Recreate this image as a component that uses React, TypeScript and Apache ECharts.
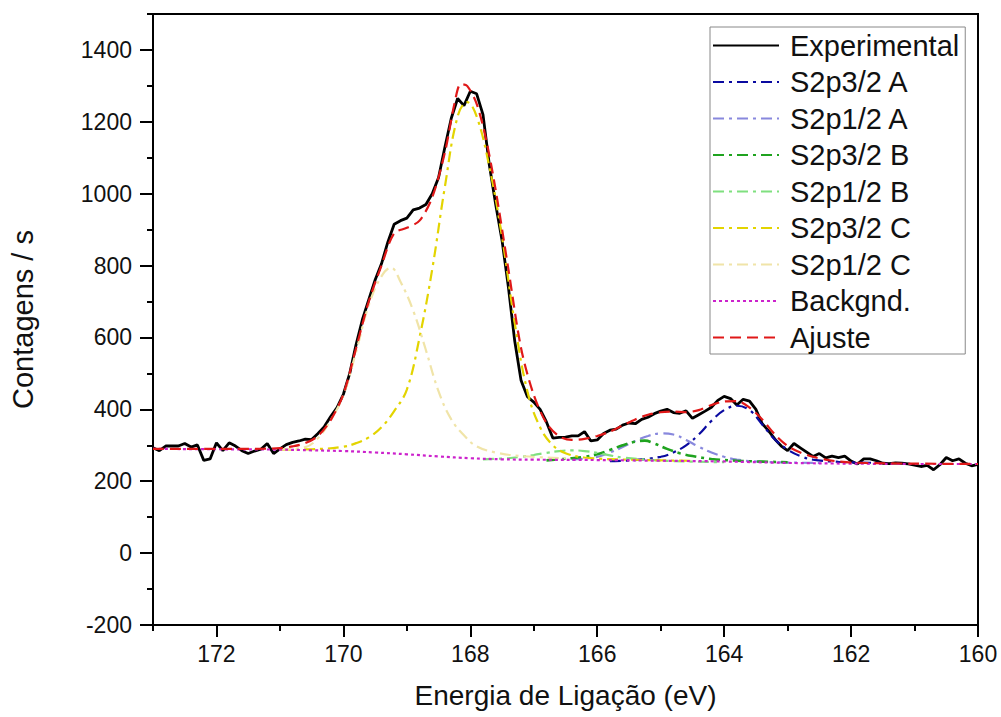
import React, { useEffect, useRef } from "react";
import * as echarts from "echarts";

// Experimental spectrum: binding energy (eV) on a 0.1 eV scan grid, counts/s
const energyExp: number[] = Array.from({ length: 131 }, (_, i) => +(173 - i * 0.1).toFixed(1));
const countsExp: number[] = [
  293, 285, 298, 298, 298, 305, 295, 301, 258, 262,
  307, 285, 307, 298, 285, 277, 284, 289, 305, 277,
  290, 302, 308, 312, 317, 316, 333, 352, 380, 405,
  442, 500, 580, 650, 705, 760, 805, 865, 915, 925,
  932, 955, 960, 970, 1000, 1045, 1130, 1210, 1265, 1245,
  1285, 1278, 1220, 1080, 970, 870, 740, 590, 480, 435,
  420, 400, 365, 320, 322, 323, 326, 326, 338, 312,
  315, 333, 342, 345, 356, 362, 360, 372, 378, 388,
  395, 400, 391, 389, 396, 375, 385, 395, 406, 425,
  436, 430, 412, 428, 423, 400, 360, 340, 317, 298,
  285, 305, 293, 281, 269, 277, 265, 270, 266, 270,
  256, 248, 262, 262, 257, 250, 249, 251, 250, 248,
  245, 241, 244, 232, 246, 266, 257, 262, 250, 243,
  247,
];

const energyA32 = [165.8, 165.4, 165.0, 164.8, 164.6, 164.4, 164.2, 164.0, 163.8, 163.6, 163.4, 163.2, 163.0, 162.8, 162.6, 162.2, 161.5];
const countsA32 = [256, 259, 268, 280, 300, 330, 368, 398, 410, 398, 358, 316, 288, 270, 260, 254, 251];

const energyA12 = [166.4, 166.0, 165.8, 165.6, 165.4, 165.2, 165.0, 164.8, 164.6, 164.4, 164.2, 164.0, 163.8, 163.4, 162.5];
const countsA12 = [260, 268, 280, 295, 312, 326, 333, 330, 315, 296, 280, 268, 260, 254, 251];

const energyB32 = [166.8, 166.4, 166.2, 166.0, 165.8, 165.6, 165.4, 165.25, 165.1, 164.9, 164.7, 164.5, 164.2, 163.8, 163.0];
const countsB32 = [258, 264, 268, 275, 287, 300, 310, 313, 305, 290, 278, 270, 262, 257, 253];

const energyB12 = [167.8, 167.4, 167.2, 167.0, 166.8, 166.6, 166.4, 166.2, 166.0, 165.8, 165.6, 165.2, 164.8, 164.0];
const countsB12 = [261, 264, 268, 273, 279, 284, 286, 284, 279, 272, 266, 260, 256, 253];

const energyC32 = [171.0, 170.5, 170.0, 169.8, 169.6, 169.4, 169.2, 169.0, 168.8, 168.6, 168.4, 168.2, 168.05, 167.9, 167.7, 167.5, 167.3, 167.1, 166.9, 166.7, 166.5, 166.2, 165.5, 164.5];
const countsC32 = [288, 289, 296, 306, 322, 350, 395, 455, 600, 790, 1020, 1215, 1255, 1215, 1075, 880, 640, 450, 350, 300, 278, 266, 260, 257];

const energyC12 = [171.0, 170.6, 170.4, 170.2, 170.0, 169.8, 169.6, 169.4, 169.25, 169.1, 168.9, 168.7, 168.5, 168.3, 168.1, 167.9, 167.6, 167.2, 166.5];
const countsC12 = [288, 295, 320, 370, 440, 560, 690, 770, 794, 755, 675, 565, 450, 372, 328, 297, 280, 270, 264];

const energyBg = [173.0, 172.0, 171.0, 170.5, 170.0, 169.5, 169.0, 168.5, 168.0, 167.5, 167.0, 166.0, 165.0, 164.0, 163.0, 162.0, 161.0, 160.0];
const countsBg = [290, 289, 288, 286, 284, 280, 275, 269, 264, 261, 260, 259, 257, 255, 251, 249, 248, 248];

const energyFit = [173.0, 172.0, 171.5, 171.0, 170.8, 170.6, 170.4, 170.2, 170.0, 169.8, 169.6, 169.4, 169.2, 169.0, 168.8, 168.6, 168.4, 168.25, 168.15, 168.05, 167.9, 167.75, 167.6, 167.4, 167.2, 167.0, 166.8, 166.6, 166.4, 166.2, 166.0, 165.8, 165.6, 165.4, 165.2, 165.0, 164.8, 164.6, 164.4, 164.2, 164.0, 163.8, 163.6, 163.4, 163.2, 163.0, 162.8, 162.6, 162.4, 162.2, 162.0, 161.5, 161.0, 160.0];
const countsFit = [290, 290, 290, 292, 297, 306, 326, 370, 442, 570, 700, 800, 890, 905, 925, 990, 1115, 1250, 1305, 1300, 1250, 1150, 1010, 790, 570, 440, 362, 325, 315, 318, 326, 338, 355, 372, 385, 392, 394, 392, 398, 412, 422, 423, 405, 372, 330, 298, 280, 268, 260, 255, 252, 250, 249, 248];

const xMajor = [160, 162, 164, 166, 168, 170, 172];
const xMinor = [161, 163, 165, 167, 169, 171, 173];
const yMajor = [-200, 0, 200, 400, 600, 800, 1000, 1200, 1400];
const yMinor = [-100, 100, 300, 500, 700, 900, 1100, 1300, 1500];

const FONT = '"Liberation Sans", Arial, sans-serif';

const zip = (xs: number[], ys: number[]) => xs.map((x, i) => [x, ys[i]]);

export default function App() {
  const ref = useRef<HTMLDivElement>(null);
  useEffect(() => {
    if (!ref.current) return;
    const chart = echarts.init(ref.current, undefined, { renderer: "svg" });
    const dashDot = [11, 5, 3, 5];
    const mk = (name: string, xs: number[], ys: number[], color: string, type: any, width: number, smooth: any) => ({
      name,
      type: "line",
      data: zip(xs, ys),
      symbol: "none",
      showSymbol: false,
      smooth,
      lineStyle: { color, type, width },
      itemStyle: { color },
      xAxisIndex: 0,
      yAxisIndex: 0,
    });
    chart.setOption({
      animation: false,
      backgroundColor: "#ffffff",
      grid: { left: 153, top: 14, right: 23, bottom: 92, show: true, borderColor: "#000", borderWidth: 2, containLabel: false },
      legend: {
        left: 710,
        top: 27,
        orient: "vertical",
        itemWidth: 66,
        itemHeight: 14,
        itemGap: 7.5,
        padding: [4, 6, 2, 2],
        borderColor: "#888",
        borderWidth: 1,
        backgroundColor: "#fff",
        itemStyle: { opacity: 0 },
        textStyle: { fontFamily: FONT, fontSize: 29, color: "#111", padding: [0, 0, 0, 6] },
        data: ["Experimental", "S2p3/2 A", "S2p1/2 A", "S2p3/2 B", "S2p1/2 B", "S2p3/2 C", "S2p1/2 C", "Backgnd.", "Ajuste"],
      },
      xAxis: [
        {
          type: "value",
          min: 160,
          max: 173,
          inverse: true,
          position: "bottom",
          name: "Energia de Ligação (eV)",
          nameLocation: "middle",
          nameGap: 56,
          nameTextStyle: { fontFamily: FONT, fontSize: 28, color: "#111" },
          axisLine: { show: true, onZero: false, lineStyle: { color: "#000", width: 2 } },
          axisTick: { show: true, customValues: xMajor, length: 12, lineStyle: { color: "#000", width: 2 } },
          axisLabel: { customValues: xMajor, fontFamily: FONT, fontSize: 23, color: "#111", margin: 17, formatter: (v: number) => String(v) },
          splitLine: { show: false },
        },
        {
          type: "value",
          min: 160,
          max: 173,
          inverse: true,
          position: "bottom",
          axisLine: { show: false, onZero: false },
          axisTick: { show: true, customValues: xMinor, length: 6, lineStyle: { color: "#000", width: 2 } },
          axisLabel: { show: false },
          splitLine: { show: false },
        },
      ],
      yAxis: [
        {
          type: "value",
          min: -200,
          max: 1500,
          position: "left",
          name: "Contagens / s",
          nameLocation: "middle",
          nameGap: 116,
          nameRotate: 90,
          nameTextStyle: { fontFamily: FONT, fontSize: 29, color: "#111" },
          axisLine: { show: true, onZero: false, lineStyle: { color: "#000", width: 2 } },
          axisTick: { show: true, customValues: yMajor, length: 13, lineStyle: { color: "#000", width: 2 } },
          axisLabel: { customValues: yMajor, fontFamily: FONT, fontSize: 23, color: "#111", margin: 21, formatter: (v: number) => String(v) },
          splitLine: { show: false },
        },
        {
          type: "value",
          min: -200,
          max: 1500,
          position: "left",
          axisLine: { show: false, onZero: false },
          axisTick: { show: true, customValues: yMinor, length: 6, lineStyle: { color: "#000", width: 2 } },
          axisLabel: { show: false },
          splitLine: { show: false },
        },
      ],
      series: [
        mk("Experimental", energyExp, countsExp, "#000000", "solid", 2.8, false),
        mk("S2p3/2 A", energyA32, countsA32, "#0a0aa0", dashDot, 2.2, 0.4),
        mk("S2p1/2 A", energyA12, countsA12, "#8888dd", dashDot, 2.2, 0.4),
        mk("S2p3/2 B", energyB32, countsB32, "#1fa31f", dashDot, 2.6, 0.4),
        mk("S2p1/2 B", energyB12, countsB12, "#7fe07f", dashDot, 2.2, 0.4),
        mk("S2p3/2 C", energyC32, countsC32, "#e3d400", dashDot, 2.2, 0.4),
        mk("S2p1/2 C", energyC12, countsC12, "#f0e4a8", dashDot, 2.2, 0.4),
        mk("Backgnd.", energyBg, countsBg, "#cc22cc", [3, 3], 2.2, 0.4),
        mk("Ajuste", energyFit, countsFit, "#e01818", [11, 6], 2.2, 0.3),
      ],
    });
    return () => chart.dispose();
  }, []);
  return <div ref={ref} style={{ position: "absolute", left: 0, top: 0, width: 1001, height: 717 }} />;
}
